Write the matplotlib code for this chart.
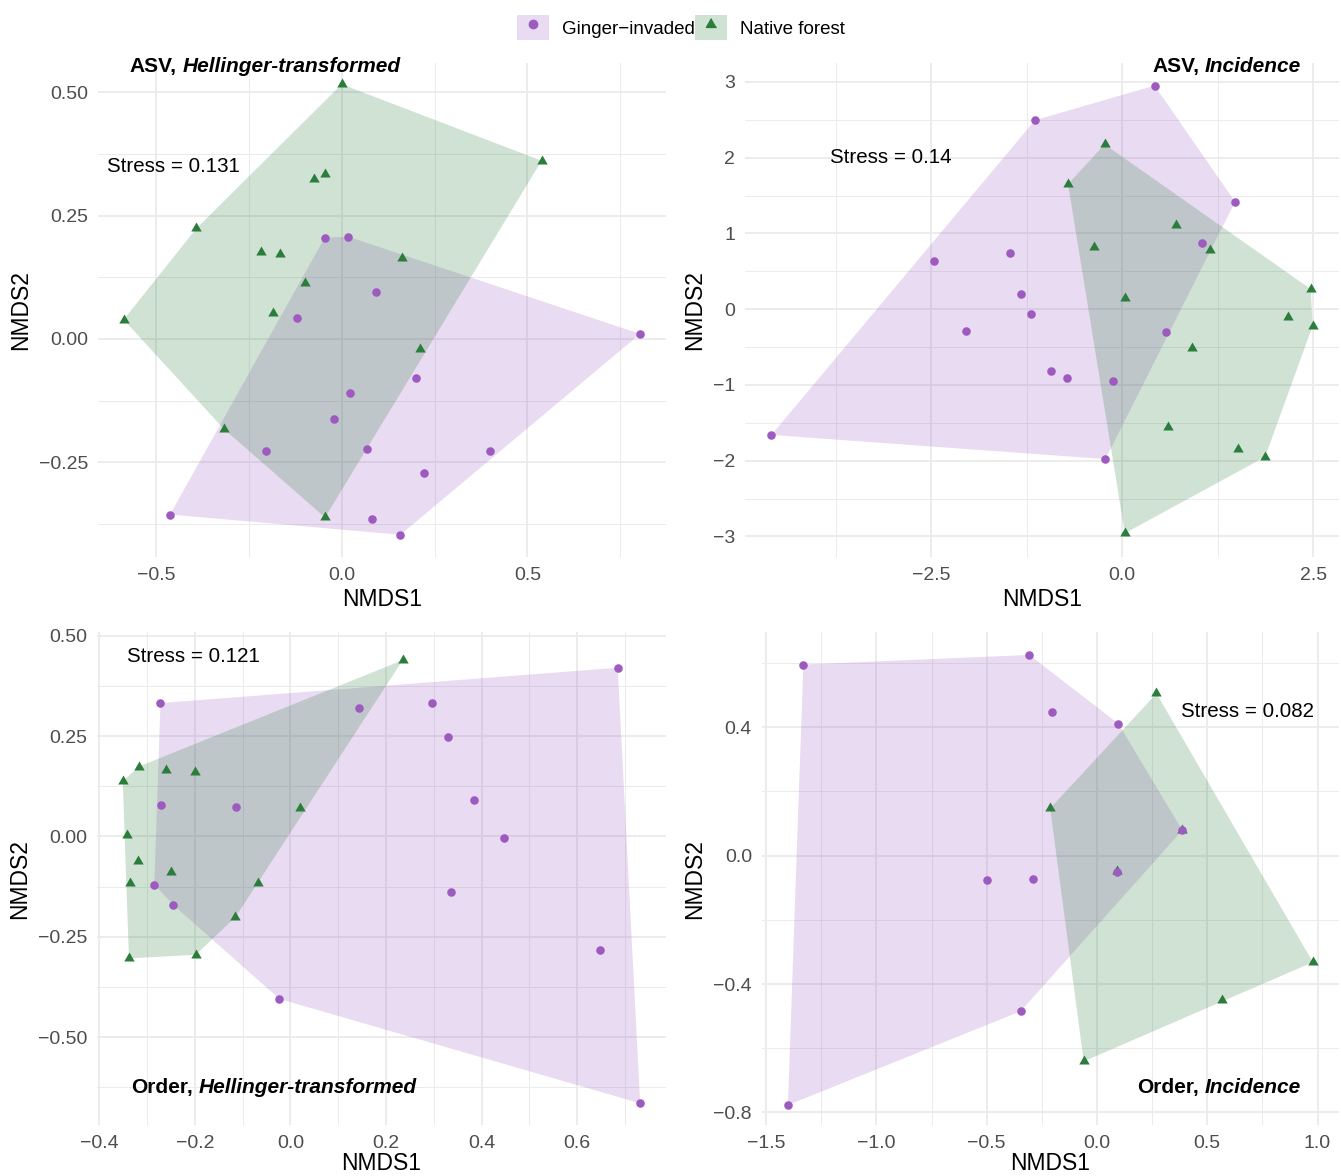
import numpy as np
import matplotlib.pyplot as plt
from matplotlib.lines import Line2D
from matplotlib.patches import Patch, Polygon
from matplotlib.legend_handler import HandlerTuple
from matplotlib.ticker import FuncFormatter

plt.rcParams['font.family'] = ['Liberation Sans', 'DejaVu Sans']

GINGER = '#9D5BC0'
NATIVE = '#2B7D3C'
FILL_ALPHA = 0.22

# ---- ASV, Hellinger-transformed ----
asv_hel_ginger_x = [-0.046, 0.018, 0.092, -0.120, 0.803, 0.199, 0.023, -0.022,
                    -0.203, 0.067, 0.398, 0.222, -0.462, 0.082, 0.158]
asv_hel_ginger_y = [0.205, 0.207, 0.095, 0.042, 0.010, -0.080, -0.110, -0.162,
                    -0.227, -0.223, -0.227, -0.271, -0.356, -0.366, -0.397]
asv_hel_native_x = [0.000, 0.538, -0.044, -0.075, -0.391, -0.216, -0.166, 0.161,
                    -0.098, -0.184, -0.587, 0.210, -0.318, -0.045]
asv_hel_native_y = [0.516, 0.361, 0.334, 0.323, 0.224, 0.177, 0.173, 0.164,
                    0.113, 0.053, 0.039, -0.020, -0.182, -0.362]

# ---- ASV, Incidence ----
asv_inc_ginger_x = [0.423, -1.144, 1.477, 1.049, -1.471, -2.463, -1.330, -1.189,
                    -2.046, 0.569, -0.930, -0.727, -0.124, -4.594, -0.220]
asv_inc_ginger_y = [2.952, 2.494, 1.418, 0.873, 0.748, 0.632, 0.207, -0.063,
                    -0.289, -0.294, -0.810, -0.902, -0.950, -1.659, -1.978]
asv_inc_native_x = [-0.231, -0.710, 0.699, -0.372, 1.144, 2.469, 0.034, 2.170,
                    2.492, 0.919, 0.603, 1.516, 1.871, 0.034]
asv_inc_native_y = [2.176, 1.650, 1.110, 0.825, 0.786, 0.265, 0.150, -0.101,
                    -0.222, -0.516, -1.558, -1.843, -1.949, -2.957]

# ---- Order, Hellinger-transformed ----
ord_hel_ginger_x = [0.685, -0.272, 0.296, 0.144, 0.329, -0.270, -0.113, 0.385,
                    0.446, -0.285, -0.245, 0.336, 0.649, -0.023, 0.732]
ord_hel_ginger_y = [0.420, 0.332, 0.332, 0.320, 0.248, 0.079, 0.072, 0.091,
                    -0.005, -0.120, -0.171, -0.139, -0.284, -0.405, -0.665]
ord_hel_native_x = [0.235, -0.317, -0.260, -0.199, -0.351, 0.019, -0.342, -0.319,
                    -0.250, -0.335, -0.068, -0.115, -0.198, -0.338]
ord_hel_native_y = [0.439, 0.174, 0.166, 0.161, 0.137, 0.071, 0.004, -0.062,
                    -0.089, -0.117, -0.115, -0.201, -0.295, -0.304]

# ---- Order, Incidence ----
ord_inc_ginger_x = [-0.307, -1.331, -0.204, 0.097, 0.387, 0.091, -0.498, -0.288,
                    -0.346, -1.401]
ord_inc_ginger_y = [0.625, 0.595, 0.446, 0.411, 0.079, -0.051, -0.076, -0.074,
                    -0.485, -0.777]
ord_inc_native_x = [0.270, -0.212, 0.387, 0.091, 0.979, 0.566, -0.060]
ord_inc_native_y = [0.505, 0.147, 0.079, -0.049, -0.332, -0.451, -0.641]

stress_labels = ['Stress = 0.131', 'Stress = 0.14', 'Stress = 0.121', 'Stress = 0.082']
title_heads = ['ASV,', 'ASV,', 'Order,', 'Order,']
title_tails = ['Hellinger-transformed', 'Incidence', 'Hellinger-transformed', 'Incidence']


def convex_hull(xs, ys):
    pts = sorted(set(zip(xs, ys)))
    if len(pts) < 3:
        return pts

    def cross(o, a, b):
        return (a[0] - o[0]) * (b[1] - o[1]) - (a[1] - o[1]) * (b[0] - o[0])

    lower = []
    for p in pts:
        while len(lower) >= 2 and cross(lower[-2], lower[-1], p) <= 0:
            lower.pop()
        lower.append(p)
    upper = []
    for p in reversed(pts):
        while len(upper) >= 2 and cross(upper[-2], upper[-1], p) <= 0:
            upper.pop()
        upper.append(p)
    return lower[:-1] + upper[:-1]


def fmt(dec):
    def f(v, pos):
        s = ('%.' + str(dec) + 'f') % v
        if s.startswith('-') and float(s) == 0:
            s = s[1:]
        return s.replace('-', '\u2212')
    return FuncFormatter(f)


tri = [(0, 1), (-0.866, -0.5), (0.866, -0.5)]

panels = [
    dict(g=(asv_hel_ginger_x, asv_hel_ginger_y), n=(asv_hel_native_x, asv_hel_native_y),
         rect=[0.0731, 0.5264, 0.4236, 0.4204], xlim=(-0.656, 0.873), ylim=(-0.442, 0.56),
         xt=[-0.5, 0, 0.5], xm=[-0.25, 0.25, 0.75], yt=[-0.25, 0, 0.25, 0.5],
         ym=[-0.375, -0.125, 0.125, 0.375], xd=1, yd=2, xpad=3,
         stress=(0.016, 0.79), title=(0.056, 0.993)),
    dict(g=(asv_inc_ginger_x, asv_inc_ginger_y), n=(asv_inc_native_x, asv_inc_native_y),
         rect=[0.5556, 0.5264, 0.443, 0.4204], xlim=(-4.94, 2.84), ylim=(-3.27, 3.256),
         xt=[-2.5, 0, 2.5], xm=[-3.75, -1.25, 1.25], yt=[-3, -2, -1, 0, 1, 2, 3],
         ym=[-2.5, -1.5, -0.5, 0.5, 1.5, 2.5], xd=1, yd=0, xpad=3,
         stress=(0.143, 0.807), title=(0.685, 0.993)),
    dict(g=(ord_hel_ginger_x, ord_hel_ginger_y), n=(ord_hel_native_x, ord_hel_native_y),
         rect=[0.0723, 0.0434, 0.4243, 0.4188], xlim=(-0.405, 0.786), ylim=(-0.719, 0.508),
         xt=[-0.4, -0.2, 0, 0.2, 0.4, 0.6], xm=[-0.3, -0.1, 0.1, 0.3, 0.5, 0.7],
         yt=[-0.5, -0.25, 0, 0.25, 0.5], ym=[-0.625, -0.375, -0.125, 0.125, 0.375],
         xd=1, yd=2, xpad=0, stress=(0.053, 0.952), title=(0.06, 0.076)),
    dict(g=(ord_inc_ginger_x, ord_inc_ginger_y), n=(ord_inc_native_x, ord_inc_native_y),
         rect=[0.568, 0.0434, 0.4306, 0.4188], xlim=(-1.52, 1.098), ylim=(-0.839, 0.695),
         xt=[-1.5, -1, -0.5, 0, 0.5, 1], xm=[-1.25, -0.75, -0.25, 0.25, 0.75],
         yt=[-0.8, -0.4, 0, 0.4], ym=[-0.6, -0.2, 0.2, 0.6], xd=1, yd=1, xpad=0,
         stress=(0.726, 0.839), title=(0.65, 0.076)),
]

fig = plt.figure(figsize=(13.41, 11.76), dpi=100)

for i, p in enumerate(panels):
    ax = fig.add_axes(p['rect'])
    gx, gy = p['g']
    nx, ny = p['n']
    ax.add_patch(Polygon(convex_hull(gx, gy), closed=True, facecolor=GINGER,
                         alpha=FILL_ALPHA, edgecolor='none', zorder=1))
    ax.add_patch(Polygon(convex_hull(nx, ny), closed=True, facecolor=NATIVE,
                         alpha=FILL_ALPHA, edgecolor='none', zorder=2))
    ax.scatter(nx, ny, marker=tri, s=75, color=NATIVE, linewidths=0, zorder=3)
    ax.scatter(gx, gy, marker='o', s=38, color=GINGER, linewidths=0, zorder=4)

    ax.set_xlim(p['xlim'])
    ax.set_ylim(p['ylim'])
    ax.set_xticks(p['xt'])
    ax.set_xticks(p['xm'], minor=True)
    ax.set_yticks(p['yt'])
    ax.set_yticks(p['ym'], minor=True)
    ax.xaxis.set_major_formatter(fmt(p['xd']))
    ax.yaxis.set_major_formatter(fmt(p['yd']))
    ax.grid(True, which='major', color='#EBEBEB', linewidth=1.3, zorder=0)
    ax.grid(True, which='minor', color='#EBEBEB', linewidth=0.7, zorder=0)
    ax.set_axisbelow(True)
    for sp in ax.spines.values():
        sp.set_visible(False)
    ax.tick_params(which='both', length=0, labelsize=14, labelcolor='#4D4D4D', pad=7)
    ax.set_xlabel('NMDS1', fontsize=16.5, labelpad=p['xpad'])
    ax.set_ylabel('NMDS2', fontsize=16.5, labelpad=5)

    ax.text(p['stress'][0], p['stress'][1], stress_labels[i], transform=ax.transAxes,
            fontsize=14.8, ha='left', va='center')
    t1 = ax.text(p['title'][0], p['title'][1], title_heads[i], transform=ax.transAxes,
                 fontsize=15, fontweight='bold', ha='left', va='center', zorder=5)
    ax.annotate(title_tails[i], xy=(1, 0), xycoords=t1, xytext=(4, 0),
                textcoords='offset points', fontsize=15, fontweight='bold',
                fontstyle='italic', ha='left', va='bottom', zorder=5)

handles = [
    (Patch(facecolor=GINGER, alpha=FILL_ALPHA, edgecolor='none'),
     Line2D([], [], marker='o', color=GINGER, linestyle='none', markersize=6)),
    (Patch(facecolor=NATIVE, alpha=FILL_ALPHA, edgecolor='none'),
     Line2D([], [], marker=tri, color=NATIVE, linestyle='none', markersize=8.5)),
]
fig.legend(handles=handles, labels=['Ginger\u2212invaded', 'Native forest'],
           loc='upper center', bbox_to_anchor=(0.508, 1.0), ncol=2, frameon=False,
           handlelength=1.7, handleheight=1.7, handletextpad=0.7, columnspacing=0.0,
           borderpad=0.3, fontsize=13.5,
           handler_map={tuple: HandlerTuple(ndivide=1, pad=0)})

fig.savefig('out.png', dpi=100, facecolor='white')
